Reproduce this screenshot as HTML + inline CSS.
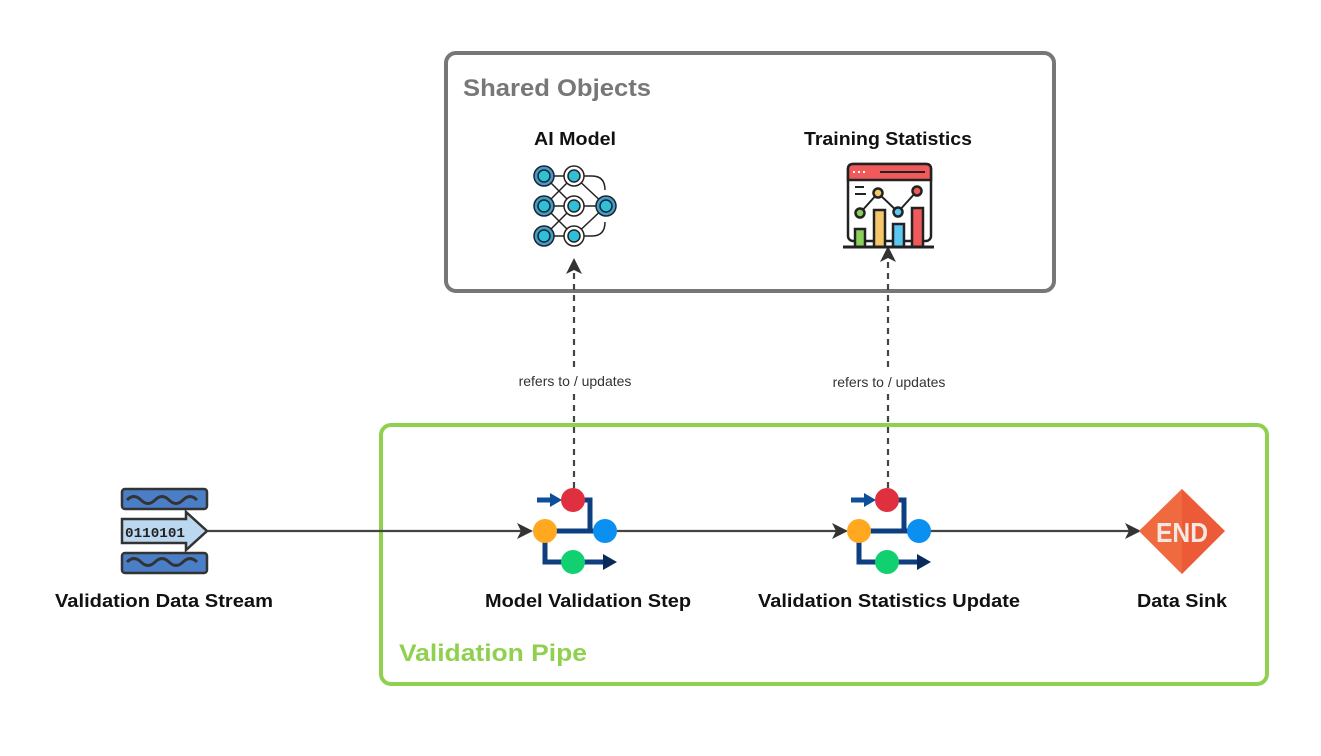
<!DOCTYPE html>
<html><head><meta charset="utf-8"><style>
html,body{margin:0;padding:0;background:#fff;}
svg{display:block;font-family:"Liberation Sans",sans-serif;}
.b{font-weight:bold;fill:#111;font-size:18px;}
</style></head><body>
<svg width="1321" height="756" viewBox="0 0 1321 756" xmlns="http://www.w3.org/2000/svg">
<defs>
<marker id="ah" markerWidth="16" markerHeight="16" refX="14" refY="8" orient="auto" markerUnits="userSpaceOnUse">
<path d="M0,0 L16,8 L0,16 L4,8 Z" fill="#333"/>
</marker>
</defs>
<rect x="446" y="53" width="608" height="238" rx="10" fill="none" stroke="#777" stroke-width="4"/>
<rect x="381" y="425" width="886" height="259" rx="10" fill="none" stroke="#8fd14f" stroke-width="4"/>
<text x="463" y="96" font-size="24" font-weight="bold" fill="#777" textLength="188" lengthAdjust="spacingAndGlyphs">Shared Objects</text>
<text x="399" y="661" font-size="24" font-weight="bold" fill="#8fd14f" textLength="188" lengthAdjust="spacingAndGlyphs">Validation Pipe</text>

<text x="575" y="145" class="b" text-anchor="middle" textLength="82" lengthAdjust="spacingAndGlyphs">AI Model</text>
<text x="888" y="145" class="b" text-anchor="middle" textLength="168" lengthAdjust="spacingAndGlyphs">Training Statistics</text>

<line x1="208" y1="531" x2="531" y2="531" stroke="#444" stroke-width="2.2" marker-end="url(#ah)"/>
<line x1="617" y1="531" x2="846" y2="531" stroke="#444" stroke-width="2.2" marker-end="url(#ah)"/>
<line x1="930" y1="531" x2="1139" y2="531" stroke="#444" stroke-width="2.2" marker-end="url(#ah)"/>
<line x1="574" y1="488" x2="574" y2="260" stroke="#444" stroke-width="2.2" stroke-dasharray="6,5" marker-end="url(#ah)"/>
<line x1="888" y1="488" x2="888" y2="248" stroke="#444" stroke-width="2.2" stroke-dasharray="6,5" marker-end="url(#ah)"/>
<rect x="505" y="370" width="140" height="20" fill="#fff"/>
<rect x="820" y="371" width="140" height="20" fill="#fff"/>
<text x="575" y="386" font-size="14" fill="#333" text-anchor="middle">refers to / updates</text>
<text x="889" y="387" font-size="14" fill="#333" text-anchor="middle">refers to / updates</text>

<g stroke="#222" stroke-width="1.5" fill="none">
<line x1="544" y1="176" x2="574" y2="206"/><line x1="544" y1="206" x2="574" y2="176"/>
<line x1="544" y1="206" x2="574" y2="236"/><line x1="544" y1="236" x2="574" y2="206"/>
<line x1="544" y1="176" x2="574" y2="176"/><line x1="544" y1="206" x2="606" y2="206"/><line x1="544" y1="236" x2="574" y2="236"/>
<line x1="574" y1="176" x2="606" y2="206"/><line x1="574" y1="236" x2="606" y2="206"/>
<path d="M574,176 H592 Q605,176 605,190"/><path d="M574,236 H592 Q605,236 605,222"/>
</g>
<g stroke="#222" stroke-width="1.5">
<circle cx="544" cy="176" r="10" fill="#3aa0d8"/><circle cx="544" cy="176" r="6" fill="#2ec0d8"/>
<circle cx="544" cy="206" r="10" fill="#3aa0d8"/><circle cx="544" cy="206" r="6" fill="#2ec0d8"/>
<circle cx="544" cy="236" r="10" fill="#3aa0d8"/><circle cx="544" cy="236" r="6" fill="#2ec0d8"/>
<circle cx="574" cy="176" r="10" fill="#fff"/><circle cx="574" cy="176" r="6" fill="#2ec0d8"/>
<circle cx="574" cy="206" r="10" fill="#fff"/><circle cx="574" cy="206" r="6" fill="#2ec0d8"/>
<circle cx="574" cy="236" r="10" fill="#fff"/><circle cx="574" cy="236" r="6" fill="#2ec0d8"/>
<circle cx="606" cy="206" r="10" fill="#3aa0d8"/><circle cx="606" cy="206" r="6" fill="#2ec0d8"/>
</g>

<g stroke="#222" stroke-width="2.5">
<rect x="848" y="164" width="83" height="77" rx="5" fill="#fff"/>
<path d="M848,180 V169 Q848,164 853,164 H926 Q931,164 931,169 V180 Z" fill="#f05a5a"/>
<rect x="855" y="229" width="10" height="18" fill="#8bd05a"/>
<rect x="874" y="210" width="11" height="37" fill="#f5c76a"/>
<rect x="893" y="224" width="11" height="23" fill="#5ac8f0"/>
<rect x="912" y="208" width="11" height="39" fill="#f05a5a"/>
<line x1="843" y1="247" x2="934" y2="247" stroke-width="3"/>
<polyline points="860,213 878,193 898,212 917,191" fill="none" stroke-width="2"/>
<circle cx="860" cy="213" r="4.5" fill="#8bd05a"/><circle cx="878" cy="193" r="4.5" fill="#f5c76a"/>
<circle cx="898" cy="212" r="4.5" fill="#5ac8f0"/><circle cx="917" cy="191" r="4.5" fill="#f05a5a"/>
<line x1="855" y1="187" x2="864" y2="187" stroke-width="2"/><line x1="855" y1="194" x2="866" y2="194" stroke-width="2"/>
</g>
<line x1="853" y1="172" x2="866" y2="172" stroke="#fff" stroke-width="2" stroke-dasharray="2,3"/>
<line x1="880" y1="172" x2="925" y2="172" stroke="#222" stroke-width="2"/>

<g stroke="#333" stroke-width="2.5">
<rect x="122" y="489" width="85" height="20" rx="3" fill="#4a7fc8"/>
<rect x="122" y="553" width="85" height="20" rx="3" fill="#4a7fc8"/>
<path d="M122,519 H186 V512 L207,531 L186,550 V543 H122 Z" fill="#bcd8f0"/>
</g>
<path d="M127,500 q7,-7 14,0 t14,0 t14,0 t14,0 t14,0" fill="none" stroke="#333" stroke-width="3"/>
<path d="M127,562 q7,-7 14,0 t14,0 t14,0 t14,0 t14,0" fill="none" stroke="#333" stroke-width="3"/>
<text x="125" y="537" font-size="14" font-weight="bold" fill="#222" font-family="Liberation Mono,monospace" textLength="60" lengthAdjust="spacingAndGlyphs">0110101</text>

<g id="p1">
<path d="M573,500 H590 V530" fill="none" stroke="#0d3f80" stroke-width="5"/>
<line x1="545" y1="531" x2="605" y2="531" stroke="#0d3f80" stroke-width="5"/>
<path d="M545,531 V562 H605" fill="none" stroke="#0d3f80" stroke-width="5"/>
<polygon points="603,554 617,562 603,570" fill="#0a2a5a"/>
<line x1="537" y1="500" x2="553" y2="500" stroke="#0d4f98" stroke-width="5"/>
<polygon points="550,493 562,500 550,507" fill="#0d4f98"/>
<circle cx="573" cy="500" r="12" fill="#e03040"/>
<circle cx="545" cy="531" r="12" fill="#ffa820"/>
<circle cx="605" cy="531" r="12" fill="#0a90f0"/>
<circle cx="573" cy="562" r="12" fill="#10d070"/>
</g>
<use href="#p1" transform="translate(314,0)"/>

<polygon points="1182,489 1225,531 1182,574 1139,531" fill="#ec5a38"/>
<polygon points="1182,489 1139,531 1182,574" fill="#f06a40"/>
<text x="1182" y="542" font-size="28" font-weight="bold" fill="#f4e8e2" text-anchor="middle" textLength="52" lengthAdjust="spacingAndGlyphs">END</text>

<text x="164" y="607" class="b" text-anchor="middle" textLength="218" lengthAdjust="spacingAndGlyphs">Validation Data Stream</text>
<text x="588" y="607" class="b" text-anchor="middle" textLength="206" lengthAdjust="spacingAndGlyphs">Model Validation Step</text>
<text x="889" y="607" class="b" text-anchor="middle" textLength="262" lengthAdjust="spacingAndGlyphs">Validation Statistics Update</text>
<text x="1182" y="607" class="b" text-anchor="middle" textLength="90" lengthAdjust="spacingAndGlyphs">Data Sink</text>
</svg>
</body></html>
